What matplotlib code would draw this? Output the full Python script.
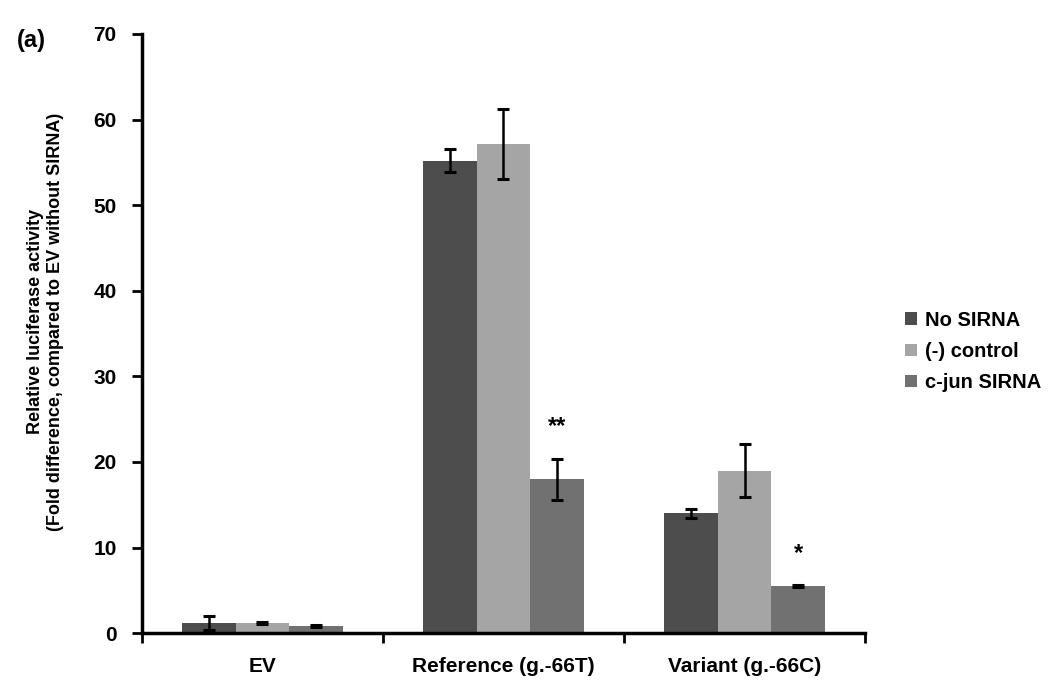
import numpy as np
import matplotlib.pyplot as plt

plt.rcParams['font.family'] = ['Liberation Sans', 'DejaVu Sans']
plt.rcParams['font.weight'] = 'bold'

categories = ['EV', 'Reference (g.-66T)', 'Variant (g.-66C)']
series = ['No SIRNA', '(-) control', 'c-jun SIRNA']
no_sirna = [1.2, 55.2, 14.0]
no_sirna_err = [0.8, 1.3, 0.5]
neg_control = [1.2, 57.1, 19.0]
neg_control_err = [0.15, 4.1, 3.1]
cjun_sirna = [0.8, 18.0, 5.5]
cjun_sirna_err = [0.1, 2.4, 0.1]
stars = ['', '**', '*']

colors = ['#4d4d4d', '#a5a5a5', '#717171']
values = [no_sirna, neg_control, cjun_sirna]
errors = [no_sirna_err, neg_control_err, cjun_sirna_err]

fig = plt.figure(figsize=(10.5, 6.92), dpi=100)
ax = fig.add_axes([0.135, 0.085, 0.689, 0.866])

x = np.arange(len(categories))
w = 0.222
for i in range(3):
    ax.bar(x + (i - 1) * w, values[i], w, color=colors[i], label=series[i],
           yerr=errors[i], capsize=4,
           error_kw=dict(ecolor='black', elinewidth=1.8, capthick=2.2))

# significance marks over the c-jun bars
for j, s in enumerate(stars):
    if s:
        top = cjun_sirna[j] + cjun_sirna_err[j]
        ax.text(x[j] + w, top + 3.7, s, ha='center', va='center',
                fontsize=17, fontweight='bold')

ax.set_xlim(-0.5, 2.5)
ax.set_ylim(0, 70)
ax.set_yticks(range(0, 71, 10))
ax.set_xticks(x)
ax.set_xticklabels(categories)
ax.set_xticks(np.arange(-0.5, 2.6, 1), minor=True)
ax.tick_params(axis='x', which='major', length=0, pad=17, labelsize=15)
ax.tick_params(axis='x', which='minor', length=7, width=2)
ax.tick_params(axis='y', length=7, width=2, labelsize=15, pad=11)
for lab in ax.get_xticklabels() + ax.get_yticklabels():
    lab.set_fontweight('bold')

for side in ['top', 'right']:
    ax.spines[side].set_visible(False)
for side in ['left', 'bottom']:
    ax.spines[side].set_linewidth(2.5)

ax.set_ylabel('Relative luciferase activity\n(Fold difference, compared to EV without SIRNA)',
              fontsize=13, fontweight='bold', linespacing=1.2)
ax.yaxis.set_label_coords(-0.108, 0.52)

fig.text(0.016, 0.942, '(a)', fontsize=17, fontweight='bold', va='center')

ax.legend(loc='center left', bbox_to_anchor=(1.03, 0.47), frameon=False,
          prop={'size': 14.5, 'weight': 'bold'}, handlelength=0.6,
          handleheight=0.6, handletextpad=0.4, labelspacing=0.6)

fig.savefig('out.png', dpi=100)
